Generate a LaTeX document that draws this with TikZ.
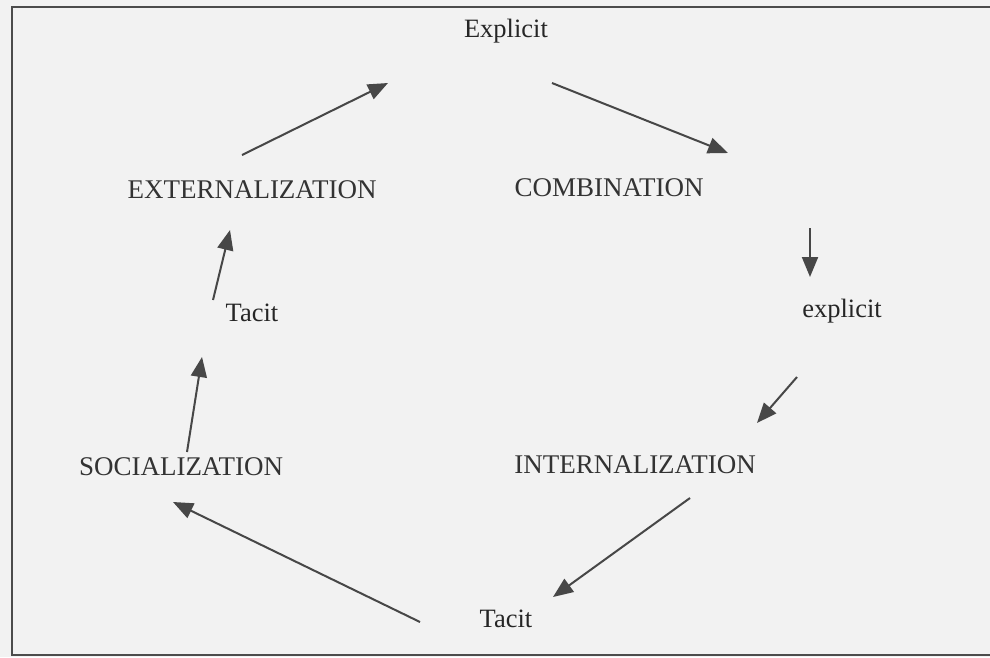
\documentclass[tikz,border=0pt]{standalone}
\usepackage{fontspec}
\setmainfont{Liberation Serif}
\usetikzlibrary{arrows.meta}

\tikzset{
  mode/.style={font=\fontsize{27}{27}\selectfont, text=black!80, inner sep=2pt},
  kind/.style={font=\fontsize{26.5}{27}\selectfont, text=black!85, inner sep=2pt},
  flow/.style={draw=black!72, line width=2pt,
    -{Triangle[length=20pt,width=16pt]}}
}

\begin{document}
\begin{tikzpicture}[x=1pt,y=-1pt]
  \useasboundingbox (0,0) rectangle (990,657);
  \fill[black!5] (0,0) rectangle (990,657);
  \draw[black!70, line width=1.4pt] (990,7) -- (12,7) -- (12,655) -- (990,655);

  % the four modes
  \node [mode] (ext)  at (252,190) {EXTERNALIZATION};
  \node [mode] (comb) at (609,188) {COMBINATION};
  \node [mode] (soc)  at (181,467) {SOCIALIZATION};
  \node [mode] (int)  at (635,465) {INTERNALIZATION};

  % kinds of knowledge
  \node [kind] (explTop)   at (506,31)  {Explicit};
  \node [kind] (explRight) at (842,311) {explicit};
  \node [kind] (tacitTop)  at (252,313) {Tacit};
  \node [kind] (tacitBot)  at (506,619) {Tacit};

  % arrow ends
  \coordinate (e1) at (242,155);  \coordinate (e2) at (388,83);
  \coordinate (c1) at (552,83);   \coordinate (c2) at (728,153);
  \coordinate (c3) at (810,228);  \coordinate (c4) at (810,277);
  \coordinate (i1) at (797,377);  \coordinate (i2) at (757,423);
  \coordinate (i3) at (690,498);  \coordinate (i4) at (553,597);
  \coordinate (s1) at (420,622);  \coordinate (s2) at (173,502);
  \coordinate (s3) at (187,452);  \coordinate (s4) at (202,357);
  \coordinate (t1) at (213,300);  \coordinate (t2) at (230,230);

  \draw [flow] (e1) -- (e2);
  \draw [flow] (c1) -- (c2);
  \draw [flow] (c3) -- (c4);
  \draw [flow] (i1) -- (i2);
  \draw [flow] (i3) -- (i4);
  \draw [flow] (s1) -- (s2);
  \draw [flow] (s3) -- (s4);
  \draw [flow] (t1) -- (t2);
\end{tikzpicture}
\end{document}
